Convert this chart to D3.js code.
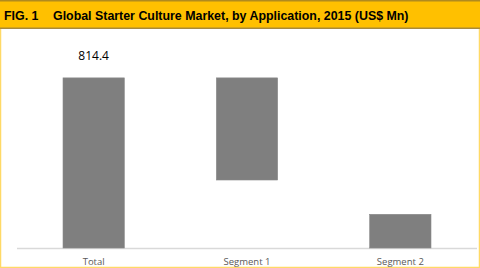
<!DOCTYPE html>
<html>
<head>
<meta charset="utf-8">
<script src="https://cdn.jsdelivr.net/npm/d3@7"></script>
<style>
  body { margin: 0; background: #fff; }
  svg { display: block; }
</style>
</head>
<body>
<script>
// chart values (US$ Mn)
const categories = ["Total", "Segment 1", "Segment 2"];
const barStart = [0, 325.5, 0];
const barEnd = [814.4, 814.4, 161.3];
const labels = ["814.4", "", ""];

const figNo = "FIG. 1";
const title = "Global Starter Culture Market, by Application, 2015 (US$ Mn)";

const width = 480, height = 268;

const svg = d3.select("body")
    .append("svg")
    .attr("width", width)
    .attr("height", height)
    .attr("viewBox", [0, 0, width, height]);

// header band
svg.append("rect")
    .attr("x", 0).attr("y", 0)
    .attr("width", width).attr("height", 29)
    .attr("fill", "#ffc000");
svg.append("rect")
    .attr("x", 0).attr("y", 0)
    .attr("width", width).attr("height", 1.5)
    .attr("fill", "#b08a1e");
svg.append("rect")
    .attr("x", 0).attr("y", 27.5)
    .attr("width", width).attr("height", 1.5)
    .attr("fill", "#a88a3a");

svg.append("text")
    .attr("x", 4).attr("y", 20)
    .style("font", "bold 12.4px 'Liberation Sans', Arial, sans-serif")
    .attr("fill", "#000")
    .text(figNo);
svg.append("text")
    .attr("x", 53).attr("y", 20)
    .style("font", "bold 12.4px 'Liberation Sans', Arial, sans-serif")
    .attr("fill", "#000")
    .text(title);

// outer border
svg.append("path")
    .attr("d", `M0.5,29V${height - 0.5}H${width - 0.5}V29`)
    .attr("fill", "none")
    .attr("stroke", "#ffd966")
    .attr("stroke-width", 1.5);

const x = d3.scaleBand()
    .domain(categories)
    .range([17, 477])
    .paddingInner(0.6)
    .paddingOuter(0.3);

const y = d3.scaleLinear()
    .domain([0, 900])
    .range([248, 60]);

const data = categories.map((c, i) => ({cat: c, y0: barStart[i], y1: barEnd[i], label: labels[i]}));

// baseline
svg.append("line")
    .attr("x1", 17).attr("x2", 477)
    .attr("y1", y(0) + 0.5).attr("y2", y(0) + 0.5)
    .attr("stroke", "#d9d9d9")
    .attr("stroke-width", 1.5);

svg.append("g")
    .selectAll("rect")
    .data(data)
    .join("rect")
    .attr("x", d => x(d.cat))
    .attr("width", x.bandwidth())
    .attr("y", d => y(d.y1))
    .attr("height", d => y(d.y0) - y(d.y1))
    .attr("fill", "#7f7f7f")
    .attr("stroke", "#8a8a8a")
    .attr("stroke-width", 0.6);

svg.append("g")
    .selectAll("text")
    .data(data.filter(d => d.label))
    .join("text")
    .attr("x", d => x(d.cat) + x.bandwidth() / 2)
    .attr("y", d => y(d.y1) - 18)
    .attr("text-anchor", "middle")
    .style("font", "12px 'Open Sans', sans-serif")
    .attr("fill", "#000")
    .text(d => d.label);

// category axis
const xAxis = svg.append("g")
    .attr("transform", `translate(0,${y(0)})`)
    .call(d3.axisBottom(x).tickSize(0).tickPadding(10));
xAxis.select(".domain").remove();
xAxis.selectAll("text")
    .style("font", "9.5px 'Open Sans', sans-serif")
    .attr("fill", "#595959");
</script>
</body>
</html>
